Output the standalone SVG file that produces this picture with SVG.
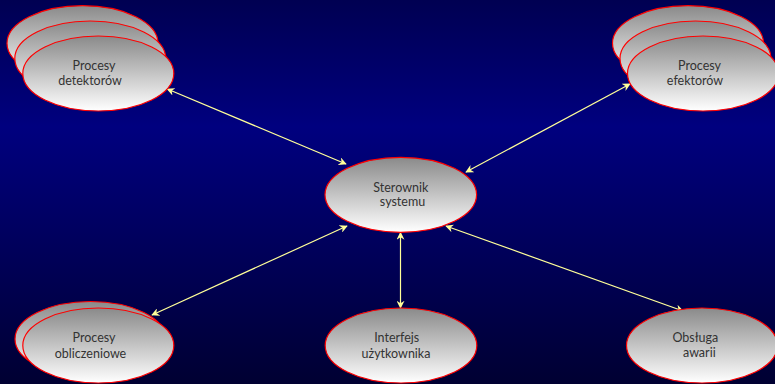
<svg xmlns="http://www.w3.org/2000/svg" width="775" height="384" viewBox="0 0 775 384">
<defs>
  <linearGradient id="bg" x1="0" y1="0" x2="0" y2="1">
    <stop offset="0" stop-color="#000052"/>
    <stop offset="0.33" stop-color="#00007f"/>
    <stop offset="1" stop-color="#000032"/>
  </linearGradient>
  <linearGradient id="nodeFill" x1="0" y1="0" x2="0" y2="1">
    <stop offset="0" stop-color="#8a8a8a"/>
    <stop offset="1" stop-color="#ffffff"/>
  </linearGradient>
  <marker id="arr" viewBox="0 0 10 10" refX="9" refY="5" markerWidth="8" markerHeight="8" markerUnits="userSpaceOnUse" orient="auto-start-reverse">
    <path d="M0,0 L10,5 L0,10 L3,5 Z" fill="#ffff99"/>
  </marker>
</defs>
<style>
  .node { fill: url(#nodeFill); stroke: #ff0000; stroke-width: 1.2; }
  .lbl { font-family: Lato, "Open Sans", sans-serif; font-size: 12.5px; fill: #333333; text-anchor: middle; }
  .conn { stroke: #ffff99; stroke-width: 1.2; fill: none; marker-start: url(#arr); marker-end: url(#arr); }
</style>
<rect x="0" y="0" width="775" height="384" fill="url(#bg)"/>

<g id="connectors">
  <line class="conn" x1="167.3" y1="89" x2="346" y2="164"/>
  <line class="conn" x1="630" y1="84" x2="466" y2="172"/>
  <line class="conn" x1="347" y1="226" x2="152" y2="315"/>
  <line class="conn" x1="400.5" y1="232.5" x2="400.5" y2="308"/>
  <line class="conn" x1="446" y1="226" x2="683" y2="311"/>
</g>

<g id="detektory">
  <ellipse class="node" cx="82.5" cy="43.2" rx="75.5" ry="37.5"/>
  <ellipse class="node" cx="90.3" cy="58.5" rx="75.5" ry="37.5"/>
  <ellipse class="node" cx="98.3" cy="73.5" rx="75.5" ry="37.5"/>
  <text class="lbl" x="94" y="70">Procesy</text>
  <text class="lbl" x="90" y="85">detektorów</text>
</g>

<g id="efektory">
  <ellipse class="node" cx="688" cy="43.2" rx="75.5" ry="37.5"/>
  <ellipse class="node" cx="695.5" cy="58.5" rx="75.5" ry="37.5"/>
  <ellipse class="node" cx="703" cy="73.5" rx="75.5" ry="37.5"/>
  <text class="lbl" x="699.5" y="70">Procesy</text>
  <text class="lbl" x="695" y="85">efektorów</text>
</g>

<g id="sterownik">
  <ellipse class="node" cx="400.8" cy="194.8" rx="75.8" ry="37.5"/>
  <text class="lbl" x="400.8" y="191.5">Sterownik</text>
  <text class="lbl" x="402.5" y="206">systemu</text>
</g>

<g id="obliczenia">
  <ellipse class="node" cx="90.5" cy="339" rx="75.5" ry="37.5"/>
  <ellipse class="node" cx="98.3" cy="345.5" rx="75.5" ry="37.5"/>
  <text class="lbl" x="94" y="342.3">Procesy</text>
  <text class="lbl" x="90.5" y="358.3">obliczeniowe</text>
</g>

<g id="interfejs">
  <ellipse class="node" cx="401" cy="345.5" rx="75.8" ry="37.5"/>
  <text class="lbl" x="396.7" y="342">Interfejs</text>
  <text class="lbl" x="396" y="357.5">użytkownika</text>
</g>

<g id="awarie">
  <ellipse class="node" cx="702" cy="345.5" rx="75.5" ry="37.5"/>
  <text class="lbl" x="695.3" y="341.5">Obsługa</text>
  <text class="lbl" x="699.3" y="357">awarii</text>
</g>
</svg>
